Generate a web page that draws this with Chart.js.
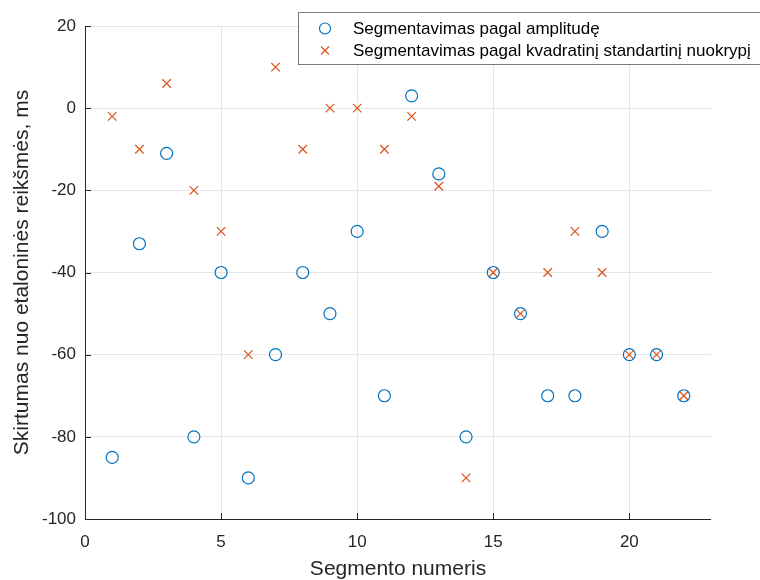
<!DOCTYPE html>
<html>
<head>
<meta charset="utf-8">
<script src="https://cdn.jsdelivr.net/npm/chart.js@4"></script>
<style>
  body { margin: 0; background: #fff; }
  #wrap { width: 760px; height: 580px; }
</style>
</head>
<body>
<div id="wrap"><canvas id="chart" width="760" height="580"></canvas></div>
<script>
const segments = [1, 2, 3, 4, 5, 6, 7, 8, 9, 10, 11, 12, 13, 14, 15, 16, 17, 18, 19, 20, 21, 22];
const amplitude = [-85, -33, -11, -80, -40, -90, -60, -40, -50, -30, -70, 3, -16, -80, -40, -50, -70, -70, -30, -60, -60, -70];
const stdDev = [-2, -10, 6, -20, -30, -60, 10, -10, 0, 0, -10, -2, -19, -90, -40, -50, -40, -30, -40, -60, -60, -70];
const xTicks = [0, 5, 10, 15, 20];
const yTicks = [-100, -80, -60, -40, -20, 0, 20];

const FONT = '"Liberation Sans", Arial, sans-serif';
const BLUE = '#0072BD';
const RED = '#D95319';

// inward tick marks + MATLAB-like axis lines
const axesPlugin = {
  id: 'matlabAxes',
  afterDatasetsDraw(chart) {
    const { ctx, chartArea: a, scales } = chart;
    ctx.save();
    ctx.strokeStyle = '#262626';
    ctx.lineWidth = 1;
    ctx.beginPath();
    ctx.moveTo(a.left + 0.5, a.top);
    ctx.lineTo(a.left + 0.5, a.bottom + 0.5);
    ctx.lineTo(a.right, a.bottom + 0.5);
    xTicks.forEach(v => {
      const x = Math.round(scales.x.getPixelForValue(v)) + 0.5;
      ctx.moveTo(x, a.bottom);
      ctx.lineTo(x, a.bottom - 6);
    });
    yTicks.forEach(v => {
      const y = Math.round(scales.y.getPixelForValue(v)) + 0.5;
      ctx.moveTo(a.left, y);
      ctx.lineTo(a.left + 6, y);
    });
    ctx.stroke();
    ctx.restore();
  },
  afterDraw(chart) {
    // legend box, top right
    const { ctx } = chart;
    const bx = 298.5, by = 12.5, bw = 470, bh = 52;
    ctx.save();
    ctx.fillStyle = '#fff';
    ctx.fillRect(bx, by, bw, bh);
    ctx.strokeStyle = '#7a7a7a';
    ctx.lineWidth = 1;
    ctx.strokeRect(bx, by, bw, bh);
    ctx.font = '17px ' + FONT;
    ctx.fillStyle = '#000';
    ctx.textBaseline = 'middle';
    chart.data.datasets.forEach((ds, i) => {
      const cy = by + 16 + i * 22;
      ctx.strokeStyle = ds.borderColor;
      ctx.lineWidth = 1.2;
      ctx.beginPath();
      if (ds.pointStyle === 'circle') {
        ctx.arc(325, cy, 5.5, 0, Math.PI * 2);
      } else {
        ctx.moveTo(321, cy - 4); ctx.lineTo(329, cy + 4);
        ctx.moveTo(329, cy - 4); ctx.lineTo(321, cy + 4);
      }
      ctx.stroke();
      ctx.fillText(ds.label, 353, cy + 1);
    });
    ctx.restore();
  }
};

new Chart(document.getElementById('chart'), {
  type: 'scatter',
  data: {
    datasets: [
      {
        label: 'Segmentavimas pagal amplitudę',
        data: segments.map((s, i) => ({ x: s, y: amplitude[i] })),
        pointStyle: 'circle',
        pointRadius: 6,
        borderColor: BLUE,
        backgroundColor: 'rgba(0,0,0,0)',
        pointBorderWidth: 1.2
      },
      {
        label: 'Segmentavimas pagal kvadratinį standartinį nuokrypį',
        data: segments.map((s, i) => ({ x: s, y: stdDev[i] })),
        pointStyle: 'crossRot',
        pointRadius: 6,
        borderColor: RED,
        backgroundColor: RED,
        pointBorderWidth: 1.2
      }
    ]
  },
  options: {
    responsive: false,
    animation: false,
    layout: { padding: { left: 0, right: 49, top: 26, bottom: 0 } },
    plugins: { legend: { display: false }, tooltip: { enabled: false } },
    scales: {
      x: {
        type: 'linear',
        min: 0,
        max: 23,
        afterBuildTicks: s => { s.ticks = xTicks.map(v => ({ value: v })); },
        afterFit: s => { s.height = 61; },
        border: { display: false },
        grid: { color: '#e6e6e6', drawTicks: false },
        ticks: { color: '#262626', font: { family: FONT, size: 17 }, padding: 13, maxRotation: 0 },
        title: { display: true, text: 'Segmento numeris', color: '#262626', font: { family: FONT, size: 21, lineHeight: 1 }, padding: { top: 0, bottom: 0 } }
      },
      y: {
        min: -100,
        max: 20,
        afterBuildTicks: s => { s.ticks = yTicks.map(v => ({ value: v })); },
        afterFit: s => { s.width = 85; },
        border: { display: false },
        grid: { color: '#e6e6e6', drawTicks: false },
        ticks: { color: '#262626', font: { family: FONT, size: 17 }, padding: 9 },
        title: { display: true, text: 'Skirtumas nuo etaloninės reikšmės, ms', color: '#262626', font: { family: FONT, size: 21 }, padding: { top: 10, bottom: 0 } }
      }
    }
  },
  plugins: [axesPlugin]
});
</script>
</body>
</html>
